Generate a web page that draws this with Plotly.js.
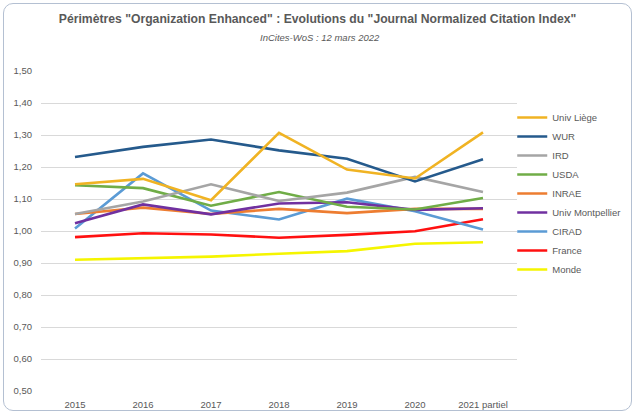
<!DOCTYPE html>
<html>
<head>
<meta charset="utf-8">
<script src="https://cdn.plot.ly/plotly-3.0.1.min.js"></script>
<style>
  html, body { margin: 0; padding: 0; background: #ffffff; }
  #wrap { position: relative; width: 635px; height: 414px; }
  #chart { width: 635px; height: 414px; }
  #frame { position: absolute; left: 3px; top: 3px; width: 627px; height: 406px;
           border: 1px solid #b4c0d2; border-radius: 10px; pointer-events: none; }
</style>
</head>
<body>
<div id="wrap">
  <div id="chart"></div>
  <div id="frame"></div>
</div>
<script>
const years = ["2015", "2016", "2017", "2018", "2019", "2020", "2021 partiel"];
const univLiege      = [1.146, 1.163, 1.096, 1.307, 1.192, 1.164, 1.308];
const wur            = [1.231, 1.263, 1.286, 1.252, 1.226, 1.155, 1.224];
const ird            = [1.053, 1.092, 1.146, 1.094, 1.120, 1.169, 1.122];
const usda           = [1.143, 1.134, 1.079, 1.122, 1.076, 1.067, 1.103];
const inrae          = [1.053, 1.073, 1.053, 1.069, 1.056, 1.069, 1.069];
const univMontp      = [1.024, 1.083, 1.052, 1.086, 1.090, 1.066, 1.071];
const cirad          = [1.008, 1.180, 1.064, 1.036, 1.101, 1.062, 1.005];
const france         = [0.981, 0.993, 0.989, 0.979, 0.988, 0.999, 1.037];
const monde          = [0.910, 0.915, 0.920, 0.929, 0.937, 0.960, 0.965];

const seriesNames = ["Univ Liège", "WUR", "IRD", "USDA", "INRAE", "Univ Montpellier", "CIRAD", "France", "Monde"];
const seriesValues = [univLiege, wur, ird, usda, inrae, univMontp, cirad, france, monde];
const seriesColors = ["#F0B323", "#255A8C", "#A5A5A5", "#70AD47", "#ED7D31", "#7030A0", "#5B9BD5", "#FF1010", "#F5F500"];

const titleText = 'Périmètres "Organization Enhanced" : Evolutions du "Journal Normalized Citation Index"';
const subtitleText = "InCites-WoS : 12 mars 2022";

// Draw order: bottom first so the legend order still follows seriesNames
const drawOrder = [8, 7, 6, 4, 5, 3, 2, 1, 0];
const traces = drawOrder.map(i => ({
  type: "scatter",
  mode: "lines",
  name: seriesNames[i],
  x: years,
  y: seriesValues[i],
  line: { color: seriesColors[i], width: 2.6 },
  legendrank: i + 1,
  hoverinfo: "x+y+name"
}));

const font = "Liberation Sans, Arial, sans-serif";
const layout = {
  width: 635,
  height: 414,
  paper_bgcolor: "#ffffff",
  plot_bgcolor: "#ffffff",
  separators: ", ",
  margin: { l: 41, r: 118, t: 71, b: 23, pad: 0, autoexpand: false },
  font: { family: font, color: "#595959", size: 9.5 },
  title: {
    text: "<b>" + titleText + "</b>",
    font: { family: font, size: 12.2, color: "#595959" },
    x: 0.5, xanchor: "center", xref: "container",
    y: 1 - 19 / 414, yanchor: "middle", yref: "container"
  },
  annotations: [{
    text: "<i>" + subtitleText + "</i>",
    xref: "paper", yref: "paper",
    x: (320 - 41) / 476, xanchor: "center",
    y: (391 - 37) / 320, yanchor: "middle",
    showarrow: false,
    font: { family: font, size: 9.5, color: "#595959" }
  }],
  xaxis: {
    type: "category",
    range: [-0.5, 6.5],
    showgrid: false,
    zeroline: false,
    showline: false,
    ticks: "",
    ticklabelstandoff: 6,
    tickfont: { family: font, size: 9.5, color: "#595959" },
    fixedrange: true
  },
  yaxis: {
    range: [0.5, 1.5],
    dtick: 0.1,
    tick0: 0.5,
    tickformat: ".2f",
    showgrid: true,
    gridcolor: "#d9d9d9",
    gridwidth: 1,
    zeroline: false,
    showline: false,
    ticks: "",
    ticklabelstandoff: 8,
    tickfont: { family: font, size: 9.5, color: "#595959" },
    fixedrange: true
  },
  legend: {
    x: 0.99, xanchor: "left",
    y: 0.90, yanchor: "top",
    font: { family: font, size: 9.5, color: "#595959" },
    itemwidth: 30,
    tracegroupgap: 0,
    bgcolor: "rgba(0,0,0,0)",
    traceorder: "normal"
  },
  showlegend: true
};

Plotly.newPlot("chart", traces, layout, { displayModeBar: false, staticPlot: true });
</script>
</body>
</html>
